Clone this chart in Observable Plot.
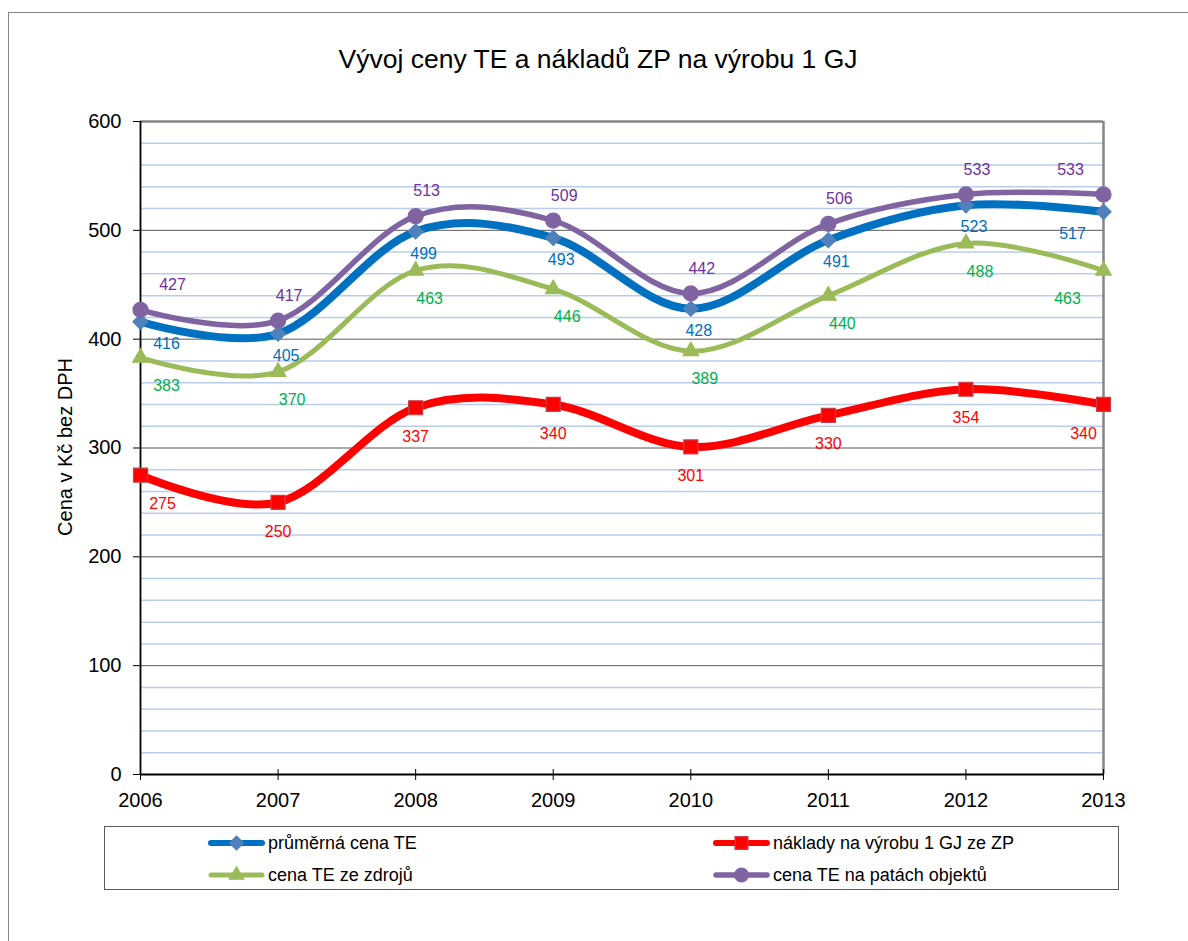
<!DOCTYPE html>
<html>
<head>
<meta charset="utf-8">
<script src="https://cdn.jsdelivr.net/npm/d3@7"></script>
<script src="https://cdn.jsdelivr.net/npm/@observablehq/plot@0.6"></script>
<style>
  html, body { margin: 0; padding: 0; background: #fff; }
  body { width: 1188px; height: 941px; position: relative; overflow: hidden; font-family: "Liberation Sans", Arial, sans-serif; }
  #frame { position: absolute; left: 8px; top: 12px; width: 1200px; height: 960px; border: 1px solid #868686; box-sizing: border-box; }
  #chart { position: absolute; left: 0; top: 0; }
  #title { position: absolute; left: 0; width: 1196px; top: 46px; text-align: center; font-size: 26.5px; line-height: 26px; color: #000; white-space: nowrap; }
  #ytitle { position: absolute; left: 65px; top: 447px; font-size: 20px; line-height: 20px; white-space: nowrap; transform: translate(-50%, -50%) rotate(-90deg); color: #000; }
  #legend { position: absolute; left: 104px; top: 826px; width: 1015px; height: 64px; border: 1px solid #595959; box-sizing: border-box; }
  .item { position: absolute; display: flex; align-items: center; font-size: 18px; line-height: 20px; white-space: nowrap; color: #000; }
  .item svg { display: block; margin-right: 3px; }
</style>
</head>
<body>
<div id="frame"></div>
<div id="chart"></div>
<div id="title">Vývoj ceny TE a nákladů ZP na výrobu 1 GJ</div>
<div id="ytitle">Cena v Kč bez DPH</div>
<div id="legend"></div>
<script>
// ---- data ----
const years = [2006, 2007, 2008, 2009, 2010, 2011, 2012, 2013];
const seriesNames = ["průměrná cena TE", "náklady na výrobu 1 GJ ze ZP", "cena TE ze zdrojů", "cena TE na patách objektů"];
const prumernaCena = [416, 405, 499, 493, 428, 491, 523, 517];
const nakladyZP = [275, 250, 337, 340, 301, 330, 354, 340];
const cenaZdroje = [383, 370, 463, 446, 389, 440, 488, 463];
const cenaPaty = [427, 417, 513, 509, 442, 506, 533, 533];
const yTicks = [0, 100, 200, 300, 400, 500, 600];
const yMinor = d3.range(20, 600, 20).filter(v => v % 100 !== 0);

// ---- styles (not data) ----
const styles = [
  {line: "#0070c0", width: 8, symbol: "diamond2", r: 6.8, fill: "#4f81bd", mstroke: "#4f81bd", label: "#0070c0", dy: 22, dx: [26, 8, -31]},
  {line: "#ff0000", width: 8, symbol: "square", r: 7.9, fill: "#ff0000", mstroke: "#c8404a", label: "#ff0000", dy: 29, dx: [22, 0, -20]},
  {line: "#9bbb59", width: 5, symbol: "triangle", r: 5.8, fill: "#9bbb59", mstroke: "#9bbb59", label: "#00b050", dy: 28, dx: [26, 14, -36]},
  {line: "#8064a2", width: 5.5, symbol: "circle", r: 7.5, fill: "#8064a2", mstroke: "#8064a2", label: "#7030a0", dy: -25, dx: [32, 11, -33]}
];

const valueArrays = [prumernaCena, nakladyZP, cenaZdroje, cenaPaty];
const rows = valueArrays.map((vals, s) => years.map((yr, i) => ({s, name: seriesNames[s], year: yr, value: vals[i], i})));
const last = years.length - 1;

const marks = [
  Plot.ruleY(yMinor, {stroke: "#b9cdeb", strokeWidth: 1.5}),
  Plot.ruleY(yTicks.filter(v => v > 0 && v < 600), {stroke: "#595959", strokeWidth: 1}),
  Plot.ruleY([600], {stroke: "#868686", strokeWidth: 2.5}),
  Plot.ruleX([years[last]], {stroke: "#868686", strokeWidth: 2.5}),
  Plot.ruleX([years[0]], {stroke: "#000", strokeWidth: 1.8}),
  Plot.ruleY([0], {stroke: "#000", strokeWidth: 1.8}),
  Plot.axisY({ticks: yTicks, tickSize: 7, tickPadding: 12, fontSize: 20, tickFormat: d => String(d), stroke: "#000", label: null}),
  Plot.axisX({ticks: years, tickSize: 11, dy: -5, tickFormat: () => "", stroke: "#000", label: null}),
  Plot.axisX({ticks: years, tickSize: 0, tickPadding: 18, fontSize: 20, tickFormat: d => String(d), label: null})
];

rows.forEach((data, s) => {
  const st = styles[s];
  marks.push(Plot.line(data, {x: "year", y: "value", curve: "cardinal", stroke: st.line, strokeWidth: st.width, strokeLinecap: "round", strokeLinejoin: "round"}));
});
rows.forEach((data, s) => {
  const st = styles[s];
  marks.push(Plot.dot(data, {x: "year", y: "value", symbol: () => st.symbol, r: st.r, fill: st.fill, stroke: st.mstroke, strokeWidth: 1.2}));
});
rows.forEach((data, s) => {
  const st = styles[s];
  const groups = [d => d.i === 0, d => d.i > 0 && d.i < last, d => d.i === last];
  groups.forEach((f, g) => {
    marks.push(Plot.text(data, {x: "year", y: "value", text: d => String(d.value), filter: f, dx: st.dx[g], dy: st.dy, fill: st.label, fontSize: 16}));
  });
});

const chart = Plot.plot({
  width: 1188, height: 830,
  marginLeft: 140, marginRight: 85, marginTop: 121, marginBottom: 56,
  x: {domain: [years[0], years[last]], label: null},
  y: {domain: [0, 600], label: null},
  style: {fontFamily: '"Liberation Sans", Arial, sans-serif', background: "transparent", overflow: "visible"},
  marks
});
document.getElementById("chart").appendChild(chart);

// ---- legend ----
const legend = document.getElementById("legend");
const legendPos = [[103, 16], [608, 16], [103, 48], [608, 48]];
[0, 1, 2, 3].forEach((s, k) => {
  const st = styles[s];
  const div = document.createElement("div");
  div.className = "item";
  div.style.left = legendPos[k][0] + "px";
  div.style.top = (legendPos[k][1] - 10) + "px";
  const svg = d3.create("svg").attr("width", 57).attr("height", 20);
  svg.append("line").attr("x1", 3).attr("x2", 54).attr("y1", 10).attr("y2", 10)
    .attr("stroke", st.line).attr("stroke-width", Math.min(st.width, 6)).attr("stroke-linecap", "round");
  const symMap = {diamond2: d3.symbolDiamond2, square: d3.symbolSquare, triangle: d3.symbolTriangle, circle: d3.symbolCircle};
  const size = Math.PI * st.r * st.r * 0.85;
  svg.append("path").attr("d", d3.symbol(symMap[st.symbol], size)()).attr("transform", "translate(28.5,10)")
    .attr("fill", st.fill).attr("stroke", st.mstroke).attr("stroke-width", 1.2);
  div.appendChild(svg.node());
  const span = document.createElement("span");
  span.textContent = seriesNames[s];
  div.appendChild(span);
  legend.appendChild(div);
});
</script>
</body>
</html>
